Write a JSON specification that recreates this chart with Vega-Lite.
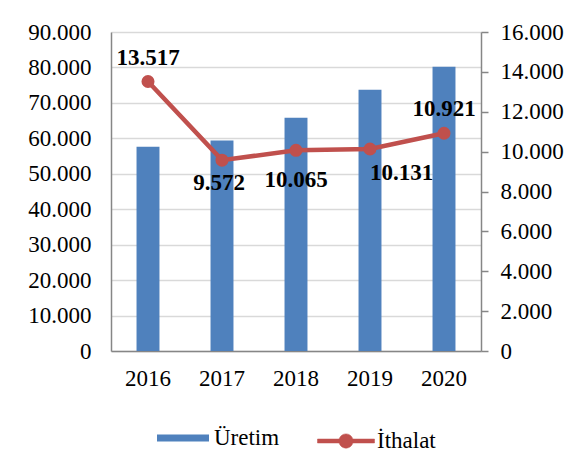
{
  "$schema": "https://vega.github.io/schema/vega-lite/v6.json",
  "width": 370,
  "height": 319,
  "padding": {"left": 27, "top": 21, "right": 5, "bottom": 5},
  "background": "white",
  "data": {"values": [
    {"yil": "2016", "uretim": 57600, "ithalat": 13517},
    {"yil": "2017", "uretim": 59400, "ithalat": 9572},
    {"yil": "2018", "uretim": 65800, "ithalat": 10065},
    {"yil": "2019", "uretim": 73700, "ithalat": 10131},
    {"yil": "2020", "uretim": 80200, "ithalat": 10921}
  ]},
  "encoding": {
    "x": {
      "field": "yil", "type": "ordinal",
      "scale": {"paddingInner": 0.69, "paddingOuter": 0.345},
      "axis": {"title": null, "labelAngle": 0, "domainColor": "#868686", "domainWidth": 1.5, "ticks": false, "labelPadding": 16, "labelFontSize": 23, "labelFont": "Liberation Serif", "labelColor": "#000000", "grid": false}
    }
  },
  "layer": [
    {
      "mark": {"type": "bar"},
      "encoding": {
        "y": {
          "field": "uretim", "type": "quantitative",
          "scale": {"domain": [0, 90000]},
          "axis": {"title": null, "orient": "left", "values": [0, 10000, 20000, 30000, 40000, 50000, 60000, 70000, 80000, 90000], "format": ",d", "grid": true, "gridColor": "#D9D9D9", "gridWidth": 1.5, "domainColor": "#868686", "domainWidth": 1.5, "ticks": false, "labelPadding": 20, "labelFontSize": 23, "labelFont": "Liberation Serif", "labelColor": "#000000"}
        },
        "fill": {
          "datum": "Üretim",
          "scale": {"range": ["#4F81BD"]},
          "legend": {"title": null, "orient": "bottom", "direction": "horizontal", "symbolType": "M-1,-0.13H1V0.13H-1Z", "symbolSize": 2704, "symbolStrokeWidth": 0, "labelFontSize": 23, "labelFont": "Liberation Serif", "labelColor": "#000000", "labelOffset": 5, "offset": 22, "padding": 0}
        }
      }
    },
    {
      "encoding": {
        "y": {
          "field": "ithalat", "type": "quantitative",
          "scale": {"domain": [0, 16000]},
          "axis": {"title": null, "orient": "right", "values": [0, 2000, 4000, 6000, 8000, 10000, 12000, 14000, 16000], "format": ",d", "grid": false, "tickSize": 7, "tickColor": "#868686", "tickWidth": 1.5, "domainColor": "#868686", "domainWidth": 1.5, "labelPadding": 12, "labelFontSize": 23, "labelFont": "Liberation Serif", "labelColor": "#000000"}
        }
      },
      "layer": [
        {
          "mark": {"type": "line", "strokeWidth": 4.5},
          "encoding": {
            "stroke": {
              "datum": "İthalat",
              "scale": {"range": ["#C0504D"]},
              "legend": {"title": null, "orient": "bottom", "direction": "horizontal", "symbolType": "M-1,-0.07H-0.24V0.07H-1Z M0.24,-0.07H1V0.07H0.24Z M-0.25,0A0.25,0.25 0 1,1 0.25,0A0.25,0.25 0 1,1 -0.25,0Z", "symbolSize": 3249, "symbolFillColor": "#C0504D", "symbolStrokeWidth": 0.5, "labelFontSize": 23, "labelFont": "Liberation Serif", "labelColor": "#000000", "labelOffset": 2, "offset": 22, "padding": 0}
            }
          }
        },
        {
          "mark": {"type": "point", "filled": true, "size": 170, "color": "#C0504D", "opacity": 1}
        },
        {
          "transform": [{"filter": "datum.yil == '2016' || datum.yil == '2020'"}],
          "mark": {"type": "text", "dy": -24, "fontSize": 23, "fontWeight": "bold", "font": "Liberation Serif", "color": "#000000"},
          "encoding": {"text": {"field": "ithalat", "type": "quantitative", "format": ",d"}}
        },
        {
          "transform": [{"filter": "datum.yil == '2017'"}],
          "mark": {"type": "text", "dy": 23, "dx": -3, "fontSize": 23, "fontWeight": "bold", "font": "Liberation Serif", "color": "#000000"},
          "encoding": {"text": {"field": "ithalat", "type": "quantitative", "format": ",d"}}
        },
        {
          "transform": [{"filter": "datum.yil == '2018'"}],
          "mark": {"type": "text", "dy": 30, "fontSize": 23, "fontWeight": "bold", "font": "Liberation Serif", "color": "#000000"},
          "encoding": {"text": {"field": "ithalat", "type": "quantitative", "format": ",d"}}
        },
        {
          "transform": [{"filter": "datum.yil == '2019'"}],
          "mark": {"type": "text", "dy": 24, "align": "left", "fontSize": 23, "fontWeight": "bold", "font": "Liberation Serif", "color": "#000000"},
          "encoding": {"text": {"field": "ithalat", "type": "quantitative", "format": ",d"}}
        }
      ]
    }
  ],
  "resolve": {"scale": {"y": "independent"}},
  "config": {
    "font": "Liberation Serif",
    "view": {"stroke": null},
    "axis": {"labelFont": "Liberation Serif"},
    "legend": {"labelFont": "Liberation Serif", "layout": {"bottom": {"anchor": "middle", "direction": "horizontal", "margin": 37}}},
    "locale": {"number": {"decimal": ",", "thousands": ".", "grouping": [3], "currency": ["", " TL"]}}
  }
}
